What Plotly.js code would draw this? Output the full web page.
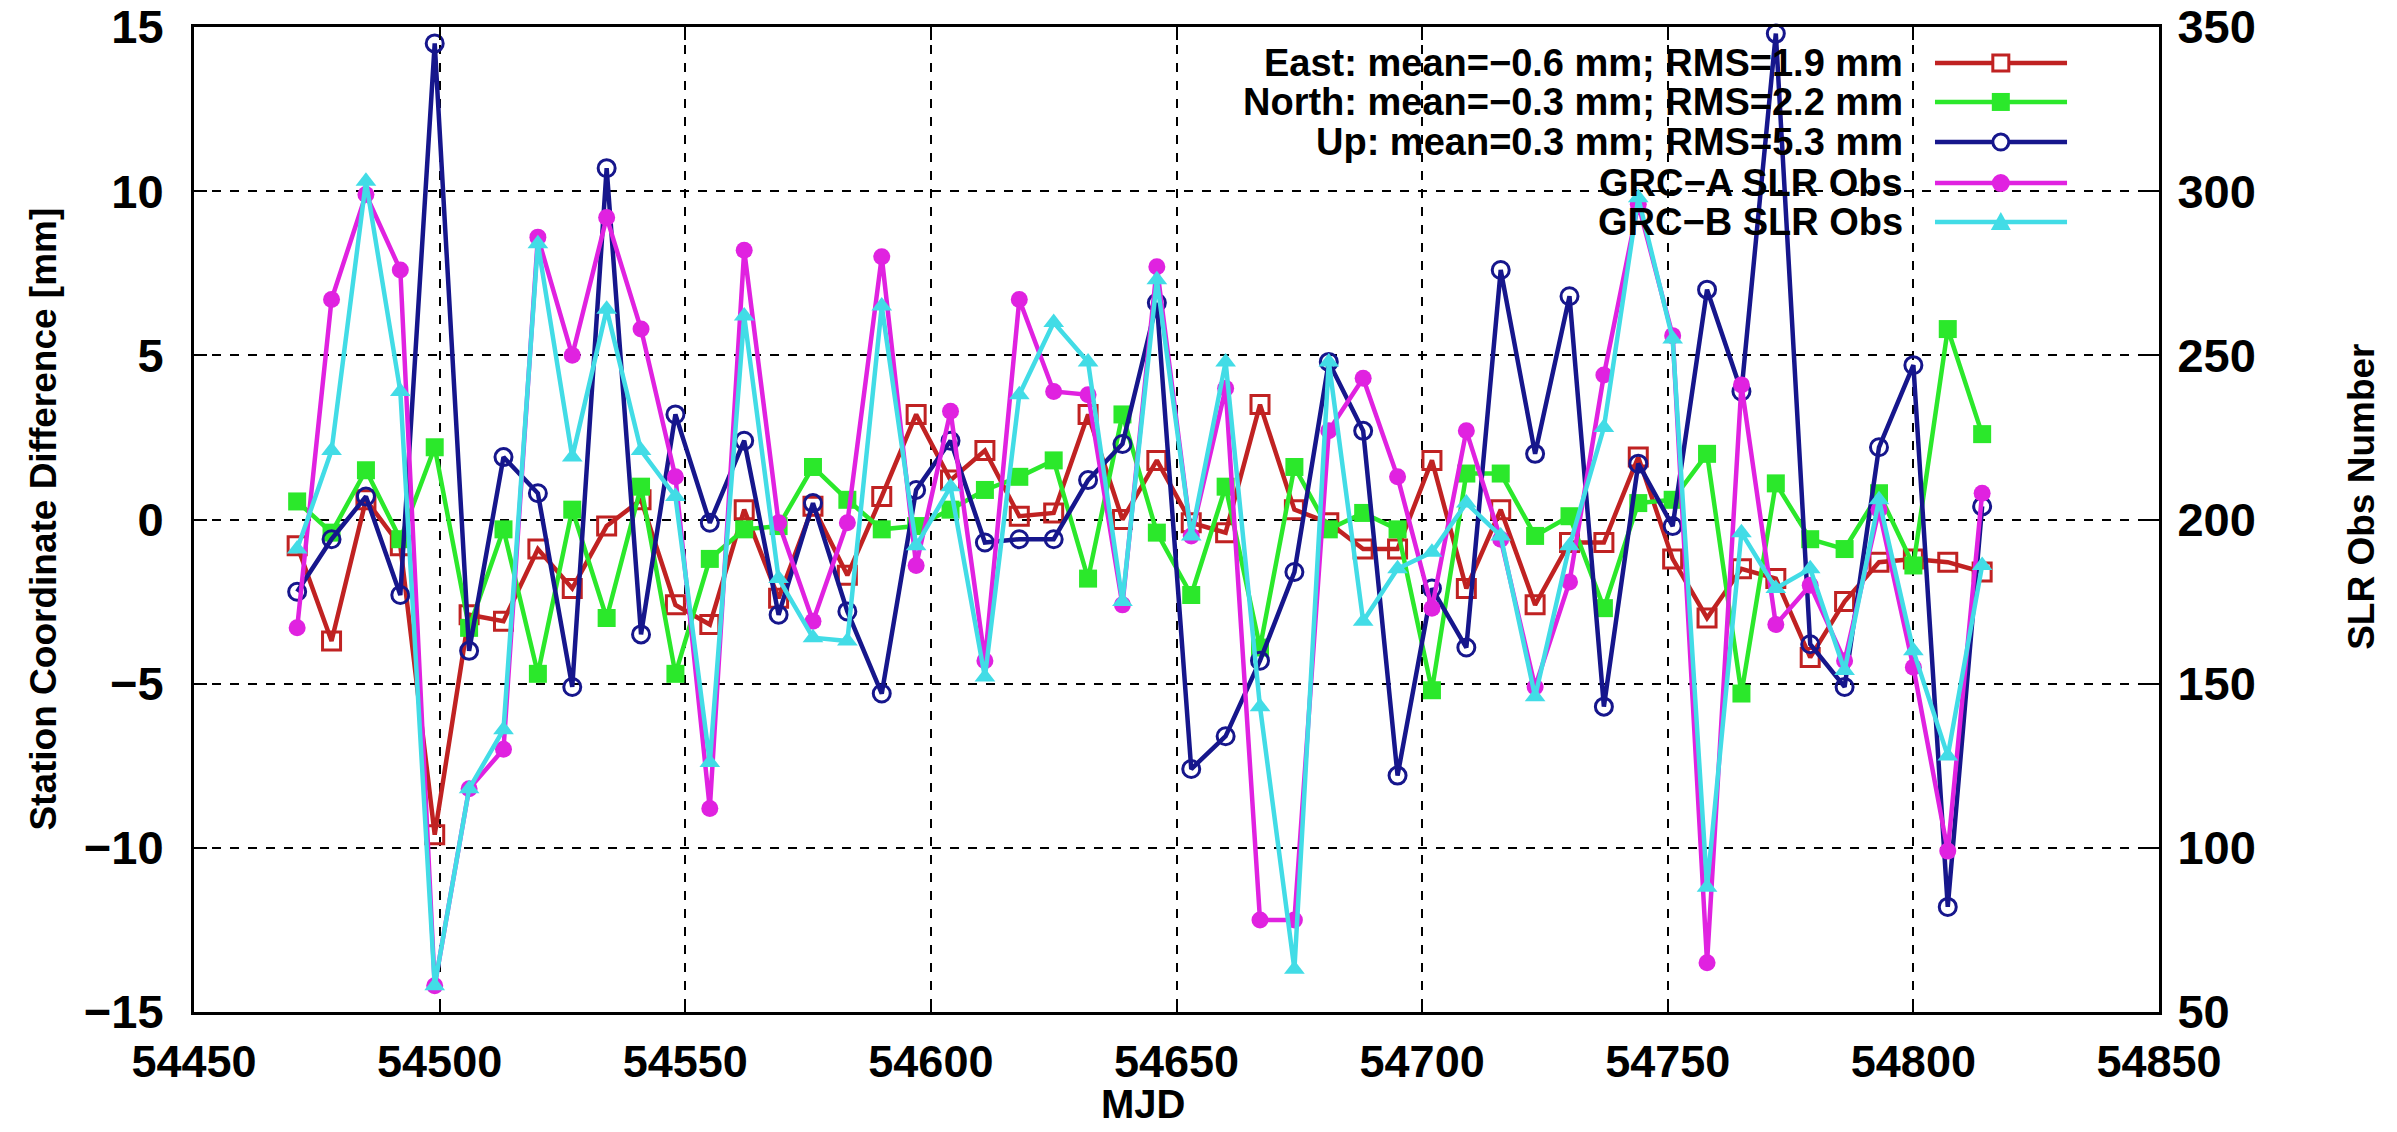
<!DOCTYPE html>
<html>
<head>
<meta charset="utf-8">
<script src="https://cdn.plot.ly/plotly-3.0.1.min.js"></script>
<style>
  html, body { margin: 0; padding: 0; background: #ffffff; }
  #chart { width: 2397px; height: 1132px; }
</style>
</head>
<body>
<div id="chart"></div>
<script>
// ---- data ----
const mjd = [54471,54478,54485,54492,54499,54506,54513,54520,54527,54534,
             54541,54548,54555,54562,54569,54576,54583,54590,54597,54604,
             54611,54618,54625,54632,54639,54646,54653,54660,54667,54674,
             54681,54688,54695,54702,54709,54716,54723,54730,54737,54744,
             54751,54758,54765,54772,54779,54786,54793,54800,54807,54814];

// Station coordinate differences [mm] (left axis)
const eastDiff  = [-0.8,-3.7,0.6,-0.8,-9.6,-2.9,-3.1,-0.9,-2.1,-0.2,
                   0.6,-2.6,-3.2,0.3,-2.4,0.4,-1.7,0.7,3.2,1.2,
                   2.1,0.1,0.2,3.2,0.0,1.8,-0.1,-0.4,3.5,0.3,
                   -0.1,-0.9,-0.9,1.8,-2.1,0.3,-2.6,-0.7,-0.7,1.9,
                   -1.2,-3.0,-1.5,-1.8,-4.2,-2.5,-1.3,-1.2,-1.3,-1.6];
const northDiff = [0.55,-0.4,1.5,-0.6,2.2,-3.3,-0.3,-4.7,0.3,-3.0,
                   1.0,-4.7,-1.2,-0.3,-0.2,1.6,0.6,-0.3,-0.2,0.3,
                   0.9,1.3,1.8,-1.8,3.2,-0.4,-2.3,1.0,-3.9,1.6,
                   -0.3,0.2,-0.3,-5.2,1.4,1.4,-0.5,0.1,-2.7,0.5,
                   0.6,2.0,-5.3,1.1,-0.6,-0.9,0.8,-1.4,5.8,2.6];
const upDiff    = [-2.2,-0.6,0.7,-2.3,14.5,-4.0,1.9,0.8,-5.1,10.7,
                   -3.5,3.2,-0.1,2.4,-2.9,0.5,-2.8,-5.3,0.9,2.4,
                   -0.7,-0.6,-0.6,1.2,2.3,6.6,-7.6,-6.6,-4.3,-1.6,
                   4.8,2.7,-7.8,-2.1,-3.9,7.6,2.0,6.8,-5.7,1.7,
                   -0.2,7.0,3.9,14.8,-3.8,-5.1,2.2,4.7,-11.8,0.4];

// SLR observation numbers (right axis)
const grcAObs = [167,267,299,276,58,118,130,286,250,292,
                 258,213,112,282,199,169,199,280,186,233,
                 157,267,239,238,174,277,195,240,78,78,
                 227,243,213,173,227,194,149,181,244,296,
                 256,65,241,168,180,157,203,155,99,208];
const grcBObs = [191,221,303,239,58,118,136,284,219,264,
                 221,207,126,262,182,164,163,265,192,210,
                 152,238,260,248,175,273,195,248,143,63,
                 248,169,185,190,205,195,146,192,228,298,
                 255,88,196,179,185,154,206,160,128,186];

const seriesNames = [
  "East: mean=\u22120.6 mm; RMS=1.9 mm",
  "North: mean=\u22120.3 mm; RMS=2.2 mm",
  "Up: mean=0.3 mm; RMS=5.3 mm",
  "GRC\u2212A SLR Obs",
  "GRC\u2212B SLR Obs"
];

// ---- styling ----
const FONT = "Liberation Sans, Arial, Helvetica, sans-serif";
const colors = ["#c02222", "#2be82b", "#16168c", "#e022e0", "#42dce6"];
const symbols = ["square-open", "square", "circle-open", "circle", "triangle-up"];
const LW = 4.5;

function mkTrace(y, i, yaxis) {
  return {
    type: "scatter", mode: "lines+markers",
    x: mjd, y: y, name: seriesNames[i], yaxis: yaxis,
    showlegend: false,
    line: { color: colors[i], width: LW },
    marker: {
      symbol: symbols[i], size: (i === 2 || i === 3) ? 17 : 18, color: colors[i],
      line: { color: colors[i], width: (i === 0 || i === 2) ? 3 : 0 }
    },
    cliponaxis: false
  };
}

const data = [
  mkTrace(eastDiff, 0, "y"),
  mkTrace(northDiff, 1, "y"),
  mkTrace(upDiff, 2, "y"),
  mkTrace(grcAObs, 3, "y2"),
  mkTrace(grcBObs, 4, "y2")
];

// ---- custom key (text on the left, sample on the right, like the original) ----
const keyRowsY = [0.9635, 0.9239, 0.8832, 0.8416, 0.8020];
const keyTextX = 0.8707, keyLineX0 = 0.886, keyLineX1 = 0.9532, keyMarkX = 0.9195;

const annotations = [];
const shapes = [
  // blank the grid behind the key (gridlines only; traces stay above)
  { type: "rect", xref: "paper", yref: "paper", x0: 0.4219, x1: 0.9664, y0: 0.7838, y1: 1.0,
    fillcolor: "#ffffff", line: { width: 0 }, layer: "between" }
];

seriesNames.forEach((name, i) => {
  annotations.push({
    xref: "paper", yref: "paper", x: keyTextX, y: keyRowsY[i],
    xanchor: "right", yanchor: "middle", showarrow: false,
    text: name, font: { family: FONT, size: 38, weight: "bold", color: "#000000" }
  });
  shapes.push({
    type: "line", xref: "paper", yref: "paper",
    x0: keyLineX0, x1: keyLineX1, y0: keyRowsY[i], y1: keyRowsY[i],
    line: { color: colors[i], width: LW }
  });
  const base = { xref: "paper", yref: "paper", xsizemode: "pixel", ysizemode: "pixel",
                 xanchor: keyMarkX, yanchor: keyRowsY[i] };
  if (i === 0) {
    shapes.push(Object.assign({ type: "rect", x0: -8, x1: 8, y0: -8, y1: 8,
      fillcolor: "#ffffff", line: { color: colors[i], width: 3 } }, base));
  } else if (i === 1) {
    shapes.push(Object.assign({ type: "rect", x0: -9, x1: 9, y0: -9, y1: 9,
      fillcolor: colors[i], line: { width: 0 } }, base));
  } else if (i === 2) {
    shapes.push(Object.assign({ type: "circle", x0: -8, x1: 8, y0: -8, y1: 8,
      fillcolor: "#ffffff", line: { color: colors[i], width: 3 } }, base));
  } else if (i === 3) {
    shapes.push(Object.assign({ type: "circle", x0: -9, x1: 9, y0: -9, y1: 9,
      fillcolor: colors[i], line: { width: 0 } }, base));
  } else {
    shapes.push(Object.assign({ type: "path", path: "M -10 -8 L 10 -8 L 0 10 Z",
      fillcolor: colors[i], line: { width: 0 } }, base));
  }
});

// axis titles
const titleFont = { family: FONT, size: 37, weight: "bold", color: "#000000" };
annotations.push({
  xref: "paper", yref: "paper", x: -0.0768, y: 0.5, xanchor: "center", yanchor: "middle",
  textangle: -90, showarrow: false, text: "Station Coordinate Difference [mm]", font: titleFont
});
annotations.push({
  xref: "paper", yref: "paper", x: 0.483, y: -0.0934, xanchor: "center", yanchor: "middle",
  showarrow: false, text: "MJD", font: { family: FONT, size: 40, weight: "bold", color: "#000000" }
});
annotations.push({
  xref: "paper", yref: "paper", x: 1.1033, y: 0.523, xanchor: "center", yanchor: "middle",
  textangle: -90, showarrow: false, text: "SLR Obs Number", font: titleFont
});

const axisCommon = {
  ticks: "inside", ticklen: 13, tickwidth: 2, tickcolor: "#000000",
  showline: true, linecolor: "#000000", linewidth: 3,
  zeroline: false
};

const layout = {
  width: 2397, height: 1132,
  margin: { l: 194, r: 238, t: 27, b: 120, pad: 0 },
  paper_bgcolor: "#ffffff", plot_bgcolor: "#ffffff",
  showlegend: false,
  xaxis: Object.assign({}, axisCommon, {
    range: [54450, 54850], tick0: 54450, dtick: 50, mirror: "ticks",
    tickformat: "d",
    showgrid: true, gridcolor: "#000000", gridwidth: 2, griddash: "dash",
    tickfont: { family: FONT, size: 45, weight: "bold", color: "#000000" },
    ticklabelstandoff: 8
  }),
  yaxis: Object.assign({}, axisCommon, {
    range: [-15, 15], tick0: -15, dtick: 5, mirror: true,
    showgrid: true, gridcolor: "#000000", gridwidth: 2, griddash: "dash",
    tickfont: { family: FONT, size: 47, weight: "bold", color: "#000000" },
    ticklabelstandoff: 18
  }),
  yaxis2: Object.assign({}, axisCommon, {
    range: [50, 350], tick0: 50, dtick: 50, overlaying: "y", side: "right",
    showgrid: false,
    tickfont: { family: FONT, size: 47, weight: "bold", color: "#000000" },
    ticklabelstandoff: 6
  }),
  annotations: annotations,
  shapes: shapes
};

Plotly.newPlot("chart", data, layout, { displayModeBar: false, staticPlot: true });
</script>
</body>
</html>
